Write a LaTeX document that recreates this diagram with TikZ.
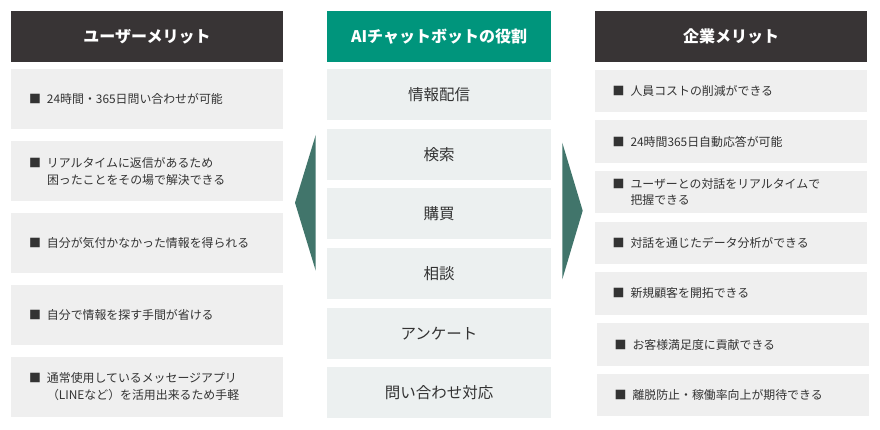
\documentclass[tikz,border=0pt]{standalone}
\usepackage{fontspec}
\setmainfont{Noto Sans CJK JP}
\definecolor{headdark}{HTML}{383435}
\definecolor{headgreen}{HTML}{00957C}
\definecolor{pointer}{HTML}{41756B}
\definecolor{cellgray}{HTML}{EFEFEF}
\definecolor{cellmint}{HTML}{ECF0F0}
\definecolor{inktext}{HTML}{333333}
\newcommand{\sqbul}{\makebox[18pt][l]{■}}
\newcommand{\sqgap}{\hspace*{18pt}}

\begin{document}
\begin{tikzpicture}[x=1pt,y=-1pt,
        heading/.style={
            rectangle,
            minimum height=51pt,
            inner sep=0pt,
            text=white,
            font=\fontsize{16}{18}\selectfont\bfseries
        },
        userhead/.style={heading, fill=headdark, minimum width=272pt},
        rolehead/.style={heading, fill=headgreen, minimum width=224pt},
        merit/.style={
            rectangle,
            fill=cellgray,
            text=inktext,
            minimum height=60pt,
            text width=236pt,
            inner xsep=18pt,
            inner ysep=0pt,
            align=left,
            font=\fontsize{11.9}{17}\selectfont
        },
        gain/.style={
            merit,
            minimum height=42.5pt,
            text width=237pt,
            inner xsep=17.5pt,
            font=\fontsize{11.9}{16}\selectfont
        },
        role/.style={
            rectangle,
            fill=cellmint,
            text=inktext,
            minimum width=224pt,
            minimum height=51pt,
            inner sep=0pt,
            font=\fontsize{15.5}{18}\selectfont
        }
    ]
        \useasboundingbox (0,0) rectangle (880,430);

        % User merits
        \node[userhead] (userhd) at (147,36.5) {ユーザーメリット};
        \node[merit] (user1) at (147,99)
            {\sqbul 24時間・365日問い合わせが可能};
        \node[merit] (user2) at (147,171)
            {\sqbul リアルタイムに返信があるため\\
            \sqgap 困ったことをその場で解決できる};
        \node[merit] (user3) at (147,243)
            {\sqbul 自分が気付かなかった情報を得られる};
        \node[merit] (user4) at (147,315)
            {\sqbul 自分で情報を探す手間が省ける};
        \node[merit] (user5) at (147,387)
            {\sqbul 通常使用しているメッセージアプリ\\
            \sqgap （LINEなど）を活用出来るため手軽};

        % Chatbot roles
        \node[rolehead] (rolehd) at (439,36.5) {AIチャットボットの役割};
        \node[role] (role1) at (439,94.5) {情報配信};
        \node[role] (role2) at (439,154.5) {検索};
        \node[role] (role3) at (439,213.5) {購買};
        \node[role] (role4) at (439,273.5) {相談};
        \node[role] (role5) at (439,333.5) {アンケート};
        \node[role] (role6) at (439,392.5) {問い合わせ対応};

        % Company merits
        \node[userhead] (corphd) at (731,36.5) {企業メリット};
        \node[gain] (corp1) at (731,91)
            {\sqbul 人員コストの削減ができる};
        \node[gain] (corp2) at (731,141.5)
            {\sqbul 24時間365日自動応答が可能};
        \node[gain] (corp3) at (731,192)
            {\sqbul ユーザーとの対話をリアルタイムで\\
            \sqgap 把握できる};
        \node[gain] (corp4) at (731,243)
            {\sqbul 対話を通じたデータ分析ができる};
        \node[gain] (corp5) at (731,293.5)
            {\sqbul 新規顧客を開拓できる};
        \node[gain] (corp6) at (733,344.5)
            {\sqbul お客様満足度に貢献できる};
        \node[gain] (corp7) at (733,395)
            {\sqbul 離脱防止・稼働率向上が期待できる};

        % Pointers
        \fill[pointer] (315.7,135) -- (295,202.7) -- (315.7,270.7) -- cycle;
        \fill[pointer] (562.3,142.7) -- (582.7,210.7) -- (562.3,279.3) -- cycle;
    \end{tikzpicture}
\end{document}
